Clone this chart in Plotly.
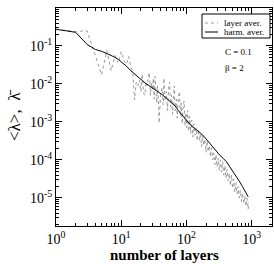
import plotly.graph_objects as go

# harmonic average (number of layers, log10 lambda)
harm_n = [1, 2, 3, 4, 5, 6, 7, 8, 9, 10, 12, 14, 16, 18, 20, 23, 26, 30, 34, 38,
          43, 48, 54, 60, 67, 75, 84, 94, 105, 118, 132, 148, 165, 185, 207, 232,
          260, 290, 325, 365, 410, 460, 515, 575, 645, 720, 800, 880]
harm_log = [-0.56, -0.64, -0.96, -1.09, -1.14, -1.19, -1.25, -1.30, -1.35, -1.42,
            -1.53, -1.65, -1.74, -1.83, -1.90, -1.97, -2.03, -2.10, -2.17, -2.22,
            -2.29, -2.36, -2.44, -2.51, -2.58, -2.70, -2.80, -2.92, -3.02, -3.10,
            -3.16, -3.22, -3.30, -3.38, -3.48, -3.60, -3.70, -3.80, -3.88, -3.96,
            -4.05, -4.18, -4.30, -4.42, -4.56, -4.70, -4.84, -4.97]

# layer average (number of layers, log10 lambda)
layer_n = list(range(1, 41)) + [
    42, 44, 45, 47, 49, 51, 53, 55, 57, 59, 61, 63, 65, 67, 70, 72, 75, 78, 80, 83,
    86, 89, 92, 95, 98, 101, 104, 108, 112, 116, 120, 125, 130, 135, 140, 146, 152,
    158, 164, 170, 177, 184, 191, 199, 207, 215, 224, 233, 242, 252, 262, 272, 283,
    294, 306, 318, 331, 344, 358, 372, 387, 402, 418, 435, 452, 470, 489, 508, 528,
    549, 571, 594, 618, 643, 668, 695, 723, 752, 782, 813, 846, 880, 900]
layer_log = [
    -0.56, -0.62, -0.60, -1.25, -1.76, -1.12, -1.65, -1.25, -1.45, -1.15,
    -1.40, -1.48, -1.28, -1.55, -1.70, -2.42, -1.95, -2.05, -1.90, -2.20,
    -1.74, -2.25, -2.30, -1.95, -2.05, -1.80, -1.70, -2.30, -1.95, -2.15,
    -1.85, -2.40, -1.80, -2.20, -2.50, -2.05, -2.35, -3.03, -2.45, -2.30,
    -2.10, -2.55, -1.85, -2.45, -2.20, -2.70, -2.15, -1.95, -2.60, -2.30,
    -2.80, -2.25, -2.05, -2.70, -2.40, -2.90, -2.35, -2.20, -2.85, -2.50,
    -3.05, -2.55, -2.45, -3.10, -2.75, -3.15, -2.70, -3.25, -2.85, -3.30,
    -2.95, -3.40, -3.05, -3.35, -3.15, -3.50, -3.20, -3.50, -3.30, -3.65,
    -3.35, -3.62, -3.45, -3.80, -3.50, -3.78, -3.62, -3.92, -3.68, -4.00,
    -3.82, -4.12, -3.86, -4.18, -3.95, -4.28, -4.00, -4.32, -4.05, -4.40,
    -4.15, -4.48, -4.25, -4.55, -4.35, -4.68, -4.40, -4.75, -4.50, -4.85,
    -4.60, -4.90, -4.70, -5.00, -4.80, -5.10, -4.87, -5.15, -4.95, -5.22,
    -5.00, -5.30, -5.12]

harm_y = [10 ** v for v in harm_log]
layer_y = [10 ** v for v in layer_log]

x_tickvals = [1, 10, 100, 1000]
x_ticktext = ["10<sup>0</sup>", "10<sup>1</sup>", "10<sup>2</sup>", "10<sup>3</sup>"]
y_tickvals = [1, 1e-1, 1e-2, 1e-3, 1e-4, 1e-5]
y_ticktext = ["10<sup>0</sup>", "10<sup>-1</sup>", "10<sup>-2</sup>",
              "10<sup>-3</sup>", "10<sup>-4</sup>", "10<sup>-5</sup>"]
x_minor = [m * 10 ** d for d in range(0, 4) for m in range(2, 10)]
y_minor = [m * 10.0 ** d for d in range(-6, 0) for m in range(2, 10)]

serif = "Liberation Serif"

fig = go.Figure()
fig.add_trace(go.Scatter(x=layer_n, y=layer_y, mode="lines", name="layer aver.",
                         line=dict(color="#999999", width=1, dash="dot")))
fig.add_trace(go.Scatter(x=harm_n, y=harm_y, mode="lines", name="harm. aver.",
                         line=dict(color="black", width=1)))

axis_common = dict(showline=True, linecolor="black", linewidth=1, mirror="allticks",
                   ticks="inside", ticklen=6, tickcolor="black", showgrid=False,
                   zeroline=False, automargin=False,
                   tickfont=dict(family=serif, size=14, color="black"))

fig.update_xaxes(type="log", range=[0, 3.31], tickvals=x_tickvals, ticktext=x_ticktext,
                 minor=dict(ticks="inside", ticklen=3, tickcolor="black", showgrid=False,
                            tickvals=x_minor),
                 **axis_common)
fig.update_yaxes(type="log", range=[-5.74, 0], tickvals=y_tickvals, ticktext=y_ticktext,
                 minor=dict(ticks="inside", ticklen=3, tickcolor="black", showgrid=False,
                            tickvals=y_minor),
                 **axis_common)

def px_x(p):
    return (p - 56) / 216.0

def px_y(p):
    return (226 - p) / 218.0

shapes = [
    dict(type="rect", xref="paper", yref="paper", x0=px_x(202), x1=px_x(270),
         y0=px_y(38), y1=px_y(14), line=dict(color="black", width=1), fillcolor="white"),
    dict(type="line", xref="paper", yref="paper", x0=px_x(205), x1=px_x(218),
         y0=px_y(23), y1=px_y(23), line=dict(color="#999999", width=1, dash="dot")),
    dict(type="line", xref="paper", yref="paper", x0=px_x(205), x1=px_x(218),
         y0=px_y(32), y1=px_y(32), line=dict(color="black", width=1)),
]
annotations = [
    dict(text="layer aver.", xref="paper", yref="paper", x=px_x(222), y=px_y(23),
         xanchor="left", yanchor="middle", showarrow=False,
         font=dict(family=serif, size=9, color="black")),
    dict(text="harm. aver.", xref="paper", yref="paper", x=px_x(222), y=px_y(32),
         xanchor="left", yanchor="middle", showarrow=False,
         font=dict(family=serif, size=9, color="black")),
    dict(text="C = 0.1", xref="paper", yref="paper", x=px_x(223), y=px_y(52),
         xanchor="left", yanchor="middle", showarrow=False,
         font=dict(family=serif, size=9, color="black")),
    dict(text="β = 2", xref="paper", yref="paper", x=px_x(223), y=px_y(68),
         xanchor="left", yanchor="middle", showarrow=False,
         font=dict(family=serif, size=9, color="black")),
    dict(text="<b>number of layers</b>", xref="paper", yref="paper", x=px_x(164),
         y=px_y(255), xanchor="center", yanchor="middle", showarrow=False,
         font=dict(family=serif, size=15, color="black")),
    dict(text="&lt;λ&gt;,  λ̄", xref="paper", yref="paper", x=px_x(14),
         y=px_y(116), xanchor="center", yanchor="middle", showarrow=False,
         textangle=-90, font=dict(family=serif, size=17, color="black")),
]

fig.update_layout(width=274, height=264, margin=dict(l=56, r=2, t=8, b=38),
                  paper_bgcolor="white", plot_bgcolor="white", showlegend=False,
                  shapes=shapes, annotations=annotations)

fig.write_html("out.html", config={"displayModeBar": False},
               post_script="document.body.style.margin='0';document.body.style.overflow='hidden';")
